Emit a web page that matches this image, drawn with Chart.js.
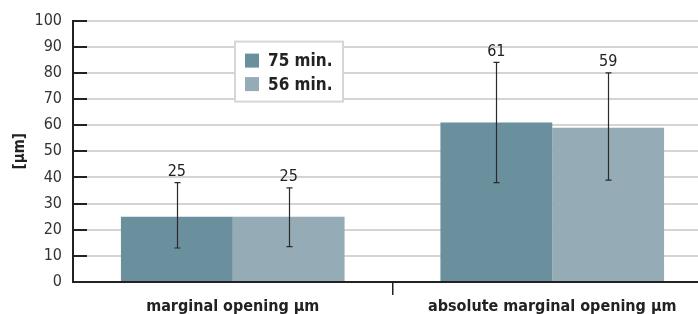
<!DOCTYPE html>
<html>
<head>
<meta charset="utf-8">
<script src="https://cdn.jsdelivr.net/npm/chart.js@4/dist/chart.umd.min.js"></script>
<style>
  html, body { margin: 0; padding: 0; background: #fff; overflow: hidden; }
  #wrap { width: 698px; height: 314px; overflow: hidden; }
</style>
</head>
<body>
<div id="wrap"><canvas id="myChart" width="712" height="314"></canvas></div>
<script>
// カテゴリとデータ
var categories = ['marginal opening µm', 'absolute marginal opening µm'];
var seriesNames = ['75 min.', '56 min.'];
var values75 = [25, 61];
var values56 = [25, 59];
var errLow75 = [13, 38];
var errHigh75 = [38, 84];
var errLow56 = [13.5, 39];
var errHigh56 = [36, 80];
var yTicks = [0, 10, 20, 30, 40, 50, 60, 70, 80, 90, 100];

var FONT = "'Liberation Sans Narrow', 'DejaVu Sans Condensed', 'Arial Narrow', sans-serif";
var colors = ['#6a909e', '#95abb5'];

// エラーバーと値ラベル
var errorBarPlugin = {
    id: 'errorBars',
    afterDatasetsDraw: function (chart) {
        var ctx = chart.ctx;
        var y = chart.scales.y;
        var lows = [errLow75, errLow56];
        var highs = [errHigh75, errHigh56];
        chart.data.datasets.forEach(function (ds, di) {
            var meta = chart.getDatasetMeta(di);
            meta.data.forEach(function (bar, i) {
                var x = Math.round(bar.x) + 0.5;
                var yTop = y.getPixelForValue(highs[di][i]);
                var yBot = y.getPixelForValue(lows[di][i]);
                ctx.save();
                ctx.strokeStyle = '#2a2a2a';
                ctx.lineWidth = 1.2;
                ctx.beginPath();
                ctx.moveTo(x, yTop);
                ctx.lineTo(x, yBot);
                ctx.moveTo(x - 3, yTop);
                ctx.lineTo(x + 3, yTop);
                ctx.moveTo(x - 3, yBot);
                ctx.lineTo(x + 3, yBot);
                ctx.stroke();
                ctx.fillStyle = '#222';
                ctx.font = '16px ' + FONT;
                ctx.textAlign = 'center';
                ctx.textBaseline = 'bottom';
                ctx.fillText(String(ds.data[i]), bar.x, yTop - 3);
                ctx.restore();
            });
        });
    }
};

// 目盛り（内側）と凡例
var decoPlugin = {
    id: 'deco',
    afterDraw: function (chart) {
        var ctx = chart.ctx;
        var area = chart.chartArea;
        var y = chart.scales.y;
        ctx.save();
        ctx.strokeStyle = '#222';
        ctx.lineWidth = 2;
        yTicks.forEach(function (v) {
            var py = Math.round(y.getPixelForValue(v));
            ctx.beginPath();
            ctx.moveTo(area.left, py);
            ctx.lineTo(area.left + 14, py);
            ctx.stroke();
        });
        // 凡例
        var lx = area.left + 162, ly = area.top + 21, lw = 108, lh = 60;
        ctx.fillStyle = '#fff';
        ctx.fillRect(lx, ly, lw, lh);
        ctx.strokeStyle = '#d6d6d6';
        ctx.lineWidth = 2;
        ctx.strokeRect(lx, ly, lw, lh);
        ctx.font = 'bold 17px ' + FONT;
        ctx.textAlign = 'left';
        ctx.textBaseline = 'middle';
        seriesNames.forEach(function (name, i) {
            var iy = ly + 12 + i * 23.5;
            ctx.fillStyle = colors[i];
            ctx.fillRect(lx + 10, iy, 14, 14);
            ctx.fillStyle = '#222';
            ctx.fillText(name, lx + 33, iy + 8);
        });
        ctx.restore();
    }
};

var ctx = document.getElementById('myChart').getContext('2d');
var config = {
    type: 'bar',
    data: {
        labels: categories,
        datasets: [{
            label: seriesNames[0],
            data: values75,
            backgroundColor: colors[0],
            categoryPercentage: 0.7,
            barPercentage: 1.0
        }, {
            label: seriesNames[1],
            data: values56,
            backgroundColor: colors[1],
            categoryPercentage: 0.7,
            barPercentage: 1.0
        }]
    },
    options: {
        responsive: false,
        animation: false,
        layout: { padding: { top: 20, right: 0, left: 0, bottom: 0 } },
        plugins: {
            legend: { display: false },
            tooltip: { enabled: false }
        },
        scales: {
            x: {
                afterFit: function (scale) { scale.height = 32; },
                grid: {
                    drawOnChartArea: false,
                    drawTicks: true,
                    tickLength: 13,
                    lineWidth: 1.5,
                    color: function (c) { return c.index === 1 ? '#222' : 'rgba(0,0,0,0)'; }
                },
                border: { color: '#222', width: 2 },
                ticks: {
                    color: '#222',
                    padding: 2,
                    font: { family: FONT, size: 16, weight: 'bold' }
                }
            },
            y: {
                min: 0,
                max: 100,
                afterFit: function (scale) { scale.width = 73; },
                afterBuildTicks: function (scale) {
                    scale.ticks = yTicks.map(function (v) { return { value: v }; });
                },
                grid: {
                    drawTicks: false,
                    color: function (c) { return c.tick.value === 0 ? 'rgba(0,0,0,0)' : '#d4d4d4'; },
                    lineWidth: 2
                },
                border: { color: '#222', width: 2 },
                title: {
                    display: true,
                    text: '[µm]',
                    color: '#222',
                    padding: { top: 11, bottom: 0 },
                    font: { family: FONT, size: 15, weight: 'bold' }
                },
                ticks: {
                    color: '#333',
                    padding: 11,
                    font: { family: FONT, size: 16 }
                }
            }
        }
    },
    plugins: [errorBarPlugin, decoPlugin]
};
var myChart = new Chart(ctx, config);
</script>
</body>
</html>
